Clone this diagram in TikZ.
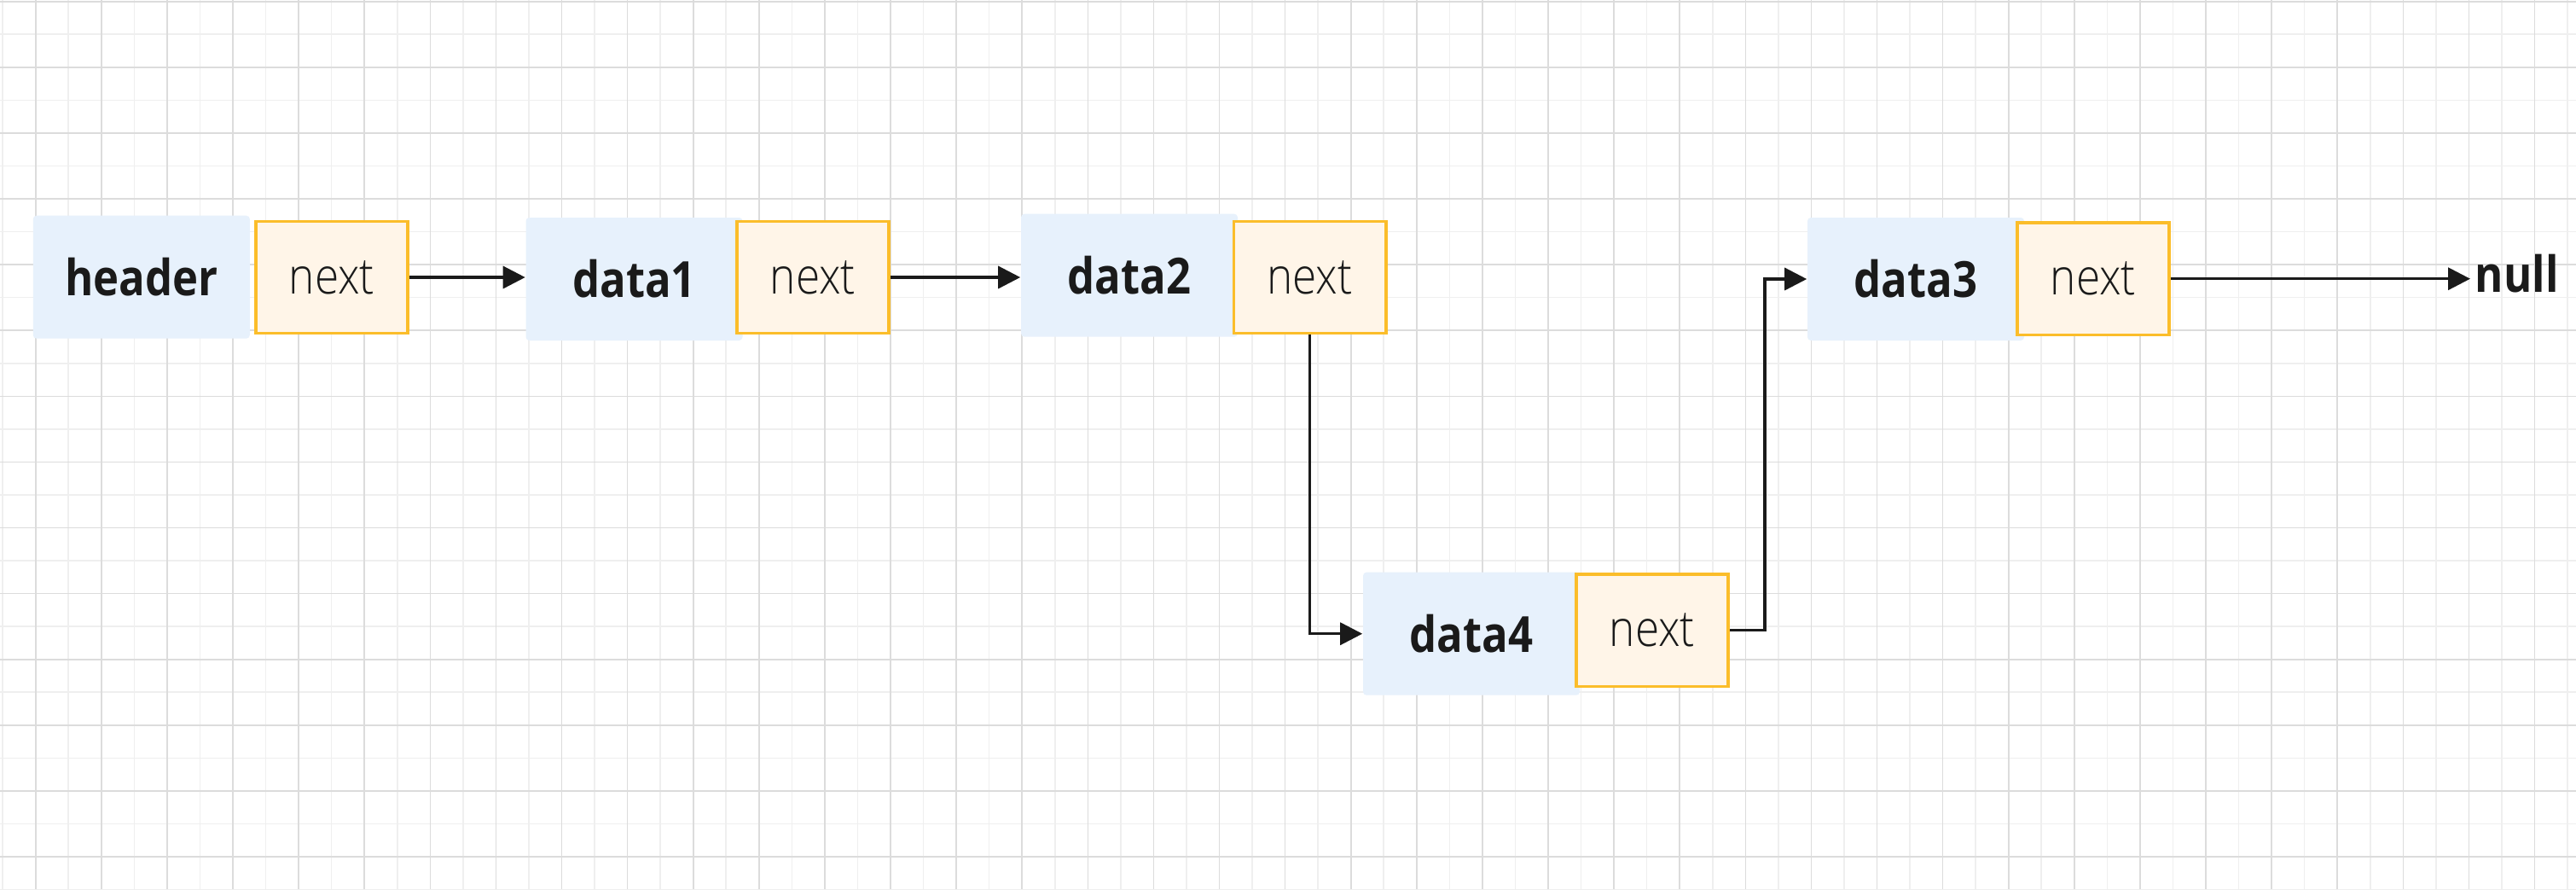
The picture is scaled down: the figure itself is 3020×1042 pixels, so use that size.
\documentclass[tikz,border=0pt]{standalone}
\usepackage{fontspec}
\setmainfont{Open Sans}
\newfontfamily\lblfont{Open Sans}[UprightFont=* Bold, FakeStretch=0.87]
\newfontfamily\nextfont{Open Sans}[UprightFont=* Light, FakeStretch=0.87]
\usetikzlibrary{arrows.meta}
\definecolor{gridA}{HTML}{DCDCDC}
\definecolor{gridB}{HTML}{EFEFEF}
\definecolor{bluefill}{HTML}{E7F1FC}
\definecolor{orfill}{HTML}{FFF5E8}
\definecolor{ordraw}{HTML}{FBBD2A}
\definecolor{ink}{HTML}{1A1A1A}
\tikzset{
  gridlight/.style={draw=gridB, line width=0.4pt},
  griddark/.style={draw=gridA, line width=0.4pt},
  databox/.style={fill=bluefill, rounded corners=1pt, minimum width=63.5pt, minimum height=36pt, inner sep=0pt, text=ink, font=\lblfont\fontsize{14.6pt}{17pt}\selectfont},
  nextbox/.style={fill=orfill, draw=ordraw, line width=0.9pt, minimum width=44.6pt, minimum height=32.8pt, inner sep=0pt, text=ink, font=\nextfont\fontsize{14.75pt}{17pt}\selectfont},
  nulltext/.style={inner xsep=1.25pt, inner ysep=0pt, text=ink, font=\lblfont\fontsize{14.6pt}{17pt}\selectfont},
  link/.style={draw=ink, line width=0.85pt, -{Triangle[length=6.5pt, width=6.5pt]}}
}
\begin{document}
\begin{tikzpicture}[x=0.25pt, y=-0.25pt]
\useasboundingbox (0,0) rectangle (3020,1042);
\fill[white] (0,0) rectangle (3020,1042);
\begin{scope}
\clip (0,0) rectangle (3020,1042);
\foreach \k in {0,...,39} {\draw[gridlight] (3.1+77.1*\k,0) -- ++(0,1042);}
\foreach \k in {0,...,13} {\draw[gridlight] (0,40.2+77.1*\k) -- ++(3020,0);}
\foreach \k in {0,...,38} {\draw[griddark] (41.7+77.1*\k,0) -- ++(0,1042);}
\foreach \k in {0,...,13} {\draw[griddark] (0,1.7+77.1*\k) -- ++(3020,0);}
\end{scope}

\node[databox] (header) at (165.8,324.7) {header};
\node[nextbox] (hnext) at (389,325) {next};
\node[databox] (data1) at (743.5,327) {data1};
\node[nextbox] (d1next) at (953,325) {next};
\node[databox] (data2) at (1324,322.7) {data2};
\node[nextbox] (d2next) at (1535.5,325) {next};
\node[databox] (data3) at (2246,327) {data3};
\node[nextbox] (d3next) at (2454,326.7) {next};
\node[databox] (data4) at (1725,742.7) {data4};
\node[nextbox] (d4next) at (1937,738.7) {next};
\node[nulltext, anchor=west] (null) at (2896,321) {null};

\draw[link] (hnext.east) -- (hnext.east -| data1.west);
\draw[link] (d1next.east) -- (d1next.east -| data2.west);
\draw[link] (d2next.south) |- (data4.west);
\draw[link] (d4next.east) -- ++(41,0) |- (data3.west);
\draw[link] (d3next.east) -- (d3next.east -| null.west);
\end{tikzpicture}
\end{document}
